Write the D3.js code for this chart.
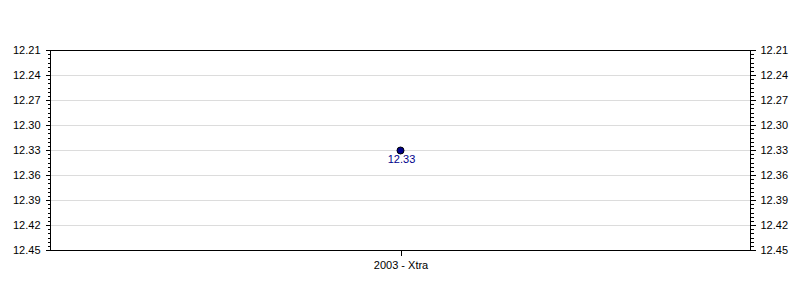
<!DOCTYPE html>
<html><head><meta charset="utf-8">
<script src="https://cdn.jsdelivr.net/npm/d3@7"></script>
<style>body{margin:0;background:#fff}svg{display:block}text{font-family:"Liberation Sans",Arial,sans-serif}</style>
</head><body>
<svg id="c" width="800" height="300"></svg>
<script>
const categories = ["2003 - Xtra"];
const values = [12.33];
const yTicks = [12.21, 12.24, 12.27, 12.30, 12.33, 12.36, 12.39, 12.42, 12.45];
const yDomain = [12.21, 12.45];

const svg = d3.select("#c");
const m = {l:50, r:750, t:50, b:250};
const x = d3.scalePoint().domain(categories).range([m.l, m.r]).padding(0.5);
const y = d3.scaleLinear().domain(yDomain).range([m.t, m.b]);
const minor = d3.range(0, 49).map(i => yDomain[0] + i*0.005).filter(v => v <= yDomain[1] + 1e-9);

// gridlines
svg.append("g").selectAll("line").data(yTicks.slice(1, -1)).join("line")
  .attr("x1", m.l).attr("x2", m.r)
  .attr("y1", d => Math.round(y(d)) + 0.5).attr("y2", d => Math.round(y(d)) + 0.5)
  .attr("stroke", "#dcdcdc").attr("stroke-width", 1);

// frame
svg.append("rect").attr("x", m.l + 0.5).attr("y", m.t + 0.5)
  .attr("width", m.r - m.l).attr("height", m.b - m.t)
  .attr("fill", "none").attr("stroke", "#000");

function sideAxis(axisFn, xPos) {
  const g = svg.append("g").attr("transform", `translate(${xPos},0)`);
  g.call(axisFn(y).tickValues(minor).tickSize(3).tickFormat(""));
  g.select(".domain").remove();
  const g2 = svg.append("g").attr("transform", `translate(${xPos},0)`);
  g2.call(axisFn(y).tickValues(yTicks).tickSize(5).tickPadding(5).tickFormat(d3.format(".2f")));
  g2.select(".domain").remove();
  g2.selectAll("text").attr("font-size", 11).attr("fill", "#000")
    .attr("font-family", '"Liberation Sans",Arial,sans-serif');
  [g, g2].forEach(gg => gg.selectAll("line").attr("stroke", "#000").attr("shape-rendering", "crispEdges"));
}
sideAxis(d3.axisLeft, m.l + 0.5);
sideAxis(d3.axisRight, m.r + 0.5);

// x axis
const gx = svg.append("g").attr("transform", `translate(0.5,${m.b + 0.5})`)
  .call(d3.axisBottom(x).tickSize(5).tickPadding(6));
gx.select(".domain").remove();
gx.selectAll("line").attr("stroke", "#000").attr("shape-rendering", "crispEdges");
gx.selectAll("text").attr("font-size", 11).attr("fill", "#000")
  .attr("font-family", '"Liberation Sans",Arial,sans-serif');

// points
const pts = categories.map((c, i) => ({c, v: values[i]}));
svg.append("g").selectAll("circle").data(pts).join("circle")
  .attr("cx", d => x(d.c) + 0.5).attr("cy", d => y(d.v) + 0.5).attr("r", 3.5)
  .attr("fill", "#00008b").attr("stroke", "#000").attr("stroke-width", 1);
svg.append("g").selectAll("text").data(pts).join("text")
  .attr("x", d => x(d.c) + 1.5).attr("y", d => y(d.v) + 13)
  .attr("text-anchor", "middle").attr("font-size", 11).attr("fill", "#00008b")
  .text(d => d3.format(".2f")(d.v));
</script>
</body></html>
